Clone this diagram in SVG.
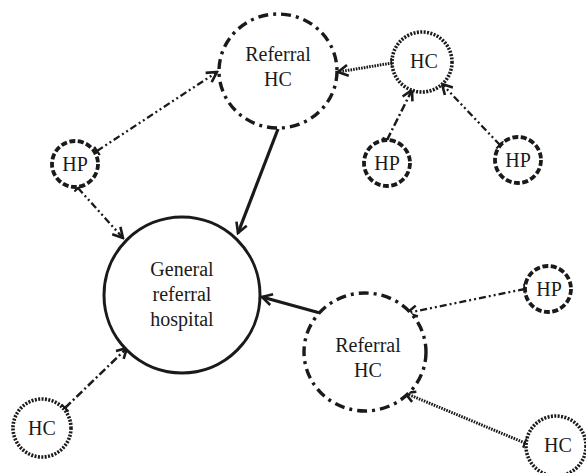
<svg xmlns="http://www.w3.org/2000/svg" width="586" height="473" viewBox="0 0 586 473">
<defs>
<style>
text{font-family:"Liberation Serif","Times New Roman",serif;font-size:20px;fill:#1a1a1a;text-anchor:middle}
.node{fill:#fff;stroke:#1a1a1a}
.gen{stroke-width:3}
.ref{stroke-width:3.4;stroke-dasharray:10 5 3 5}
.hc{stroke-width:3.6;stroke-dasharray:2 1.4}
.hp{stroke-width:3.8;stroke-dasharray:6 2.5}
.c{fill:none;stroke:#1a1a1a;marker-end:url(#arr)}
.solid{stroke-width:3.2}
.ddd{stroke-width:2.3;stroke-dasharray:7 3 2 3 2 3;marker-start:url(#tick)}
.dot{stroke-width:3;stroke-dasharray:1.6 1.1;marker-start:url(#tick)}
.dd{stroke-width:2.5;stroke-dasharray:8 3 2 3;marker-start:url(#tick)}
</style>
<marker id="arr" viewBox="0 0 14 14" refX="12" refY="7" markerWidth="14" markerHeight="14" markerUnits="userSpaceOnUse" orient="auto">
<path d="M2,1.5 L12,7 L2,12.5" fill="none" stroke="#1a1a1a" stroke-width="2.6"/>
</marker>
<marker id="tick" viewBox="0 0 6 12" refX="1" refY="6" markerWidth="6" markerHeight="12" markerUnits="userSpaceOnUse" orient="auto">
<path d="M1,1 L1,11" fill="none" stroke="#1a1a1a" stroke-width="2.2"/>
</marker>
</defs>
<g id="connectors">
<line class="c ddd" x1="97" y1="151" x2="217" y2="72"/>
<line class="c ddd" x1="78" y1="188" x2="123" y2="238"/>
<line class="c solid" x1="278" y1="129" x2="238" y2="233"/>
<line class="c dot" x1="392" y1="63" x2="338" y2="72"/>
<line class="c dd" x1="387" y1="140" x2="412" y2="90"/>
<line class="c ddd" x1="500" y1="145" x2="442" y2="84"/>
<line class="c solid" x1="320" y1="313" x2="262" y2="297"/>
<line class="c ddd" x1="525" y1="289" x2="407" y2="313"/>
<line class="c dot" x1="525" y1="443" x2="405" y2="393"/>
<line class="c dd" x1="65" y1="408" x2="127" y2="348"/>
</g>
<g id="general">
<circle class="node gen" cx="182" cy="295" r="78"/>
<text x="182" y="276">General</text>
<text x="182" y="301">referral</text>
<text x="182" y="326">hospital</text>
</g>
<g id="refhc1">
<ellipse class="node ref" cx="278" cy="71" rx="59" ry="57"/>
<text x="278" y="61">Referral</text>
<text x="278" y="86">HC</text>
</g>
<g id="refhc2">
<ellipse class="node ref" cx="365" cy="352" rx="61" ry="59"/>
<text x="368" y="352">Referral</text>
<text x="368" y="377">HC</text>
</g>
<g id="hc1">
<circle class="node hc" cx="422" cy="62" r="30"/>
<text x="424" y="68">HC</text>
</g>
<g id="hc2">
<circle class="node hc" cx="42" cy="428" r="29"/>
<text x="42" y="435">HC</text>
</g>
<g id="hc3">
<circle class="node hc" cx="556" cy="446" r="30"/>
<text x="558" y="452">HC</text>
</g>
<g id="hp1">
<circle class="node hp" cx="75" cy="164" r="23"/>
<text x="75" y="171">HP</text>
</g>
<g id="hp2">
<circle class="node hp" cx="387" cy="163" r="23"/>
<text x="387" y="170">HP</text>
</g>
<g id="hp3">
<circle class="node hp" cx="518" cy="160" r="23"/>
<text x="518" y="167">HP</text>
</g>
<g id="hp4">
<circle class="node hp" cx="548" cy="289" r="23"/>
<text x="549" y="296">HP</text>
</g>
</svg>
